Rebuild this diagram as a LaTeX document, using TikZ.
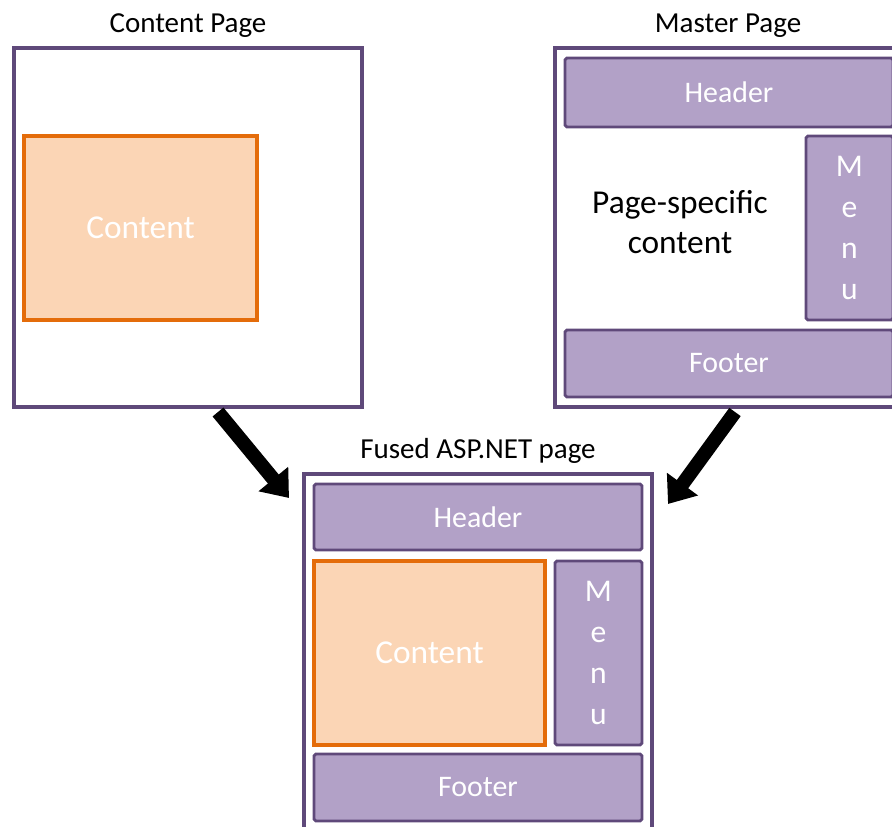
\documentclass[tikz,border=0pt]{standalone}
\usepackage{fontspec}
\setmainfont{Carlito}
\usetikzlibrary{arrows.meta}
\definecolor{pageline}{HTML}{5F497A}
\definecolor{partfill}{HTML}{B2A1C7}
\definecolor{contfill}{HTML}{FBD5B5}
\definecolor{contline}{HTML}{E46C0A}

\begin{document}
\begin{tikzpicture}[x=0.02cm,y=-0.02cm,
	page/.style={draw=pageline,line width=1.8pt,minimum width=6.96cm,minimum height=7.18cm,inner sep=0pt},
	part/.style={draw=pageline,fill=partfill,line width=1.6pt,rounded corners=1pt,text=white,inner sep=0pt,font=\fontsize{17}{20}\selectfont},
	cont/.style={draw=contline,fill=contfill,line width=1.8pt,text=white,inner sep=0pt,minimum width=4.66cm,minimum height=3.68cm,font=\fontsize{19}{22}\selectfont},
	menubox/.style={part,minimum width=1.74cm,minimum height=3.68cm,align=center,font=\fontsize{18}{23.2}\selectfont},
	pagetitle/.style={font=\fontsize{16.5}{19}\selectfont},
	bigarrow/.style={line width=8pt,-{Triangle[width=21pt,length=14pt]}}]
					\useasboundingbox (0,0) rectangle (892,827);
					% Content page
					\node[pagetitle] (ctitle) at (188,26) {Content Page};
					\node[page] (cpage) at (188,227.5) {};
					\node[cont] (cbox) at (140.5,228) {Content};
					% Master page
					\node[pagetitle] (mtitle) at (728,26) {Master Page};
					\node[page] (mpage) at (729,227.5) {};
					\node[part,minimum width=6.56cm,minimum height=1.38cm] (mhead) at (729,92.5) {Header};
					\node[menubox] (mmenu) at (849.5,228) {M\\e\\n\\u};
					\node[part,minimum width=6.56cm,minimum height=1.34cm] (mfoot) at (729,363.5) {Footer};
					\node[align=center,font=\fontsize{19}{22.8}\selectfont] (mtext) at (680,222) {Page-specific\\content};
					% Fused page
					\node[pagetitle] (ftitle) at (478,451) {Fused ASP.NET page};
					\node[page] (fpage) at (478,653.5) {};
					\node[part,minimum width=6.56cm,minimum height=1.32cm] (fhead) at (478,517) {Header};
					\node[cont,minimum width=4.62cm] (fcont) at (429.5,653) {Content};
					\node[menubox] (fmenu) at (598.5,653) {M\\e\\n\\u};
					\node[part,minimum width=6.56cm,minimum height=1.34cm] (ffoot) at (478,787.5) {Footer};
					% arrows into the fused page
					\coordinate (la) at (218,412);
					\coordinate (lb) at (289,498);
					\coordinate (ra) at (735,412);
					\coordinate (rb) at (668,504);
					\draw[bigarrow] (la) -- (lb);
					\draw[bigarrow] (ra) -- (rb);
				\end{tikzpicture}
\end{document}
